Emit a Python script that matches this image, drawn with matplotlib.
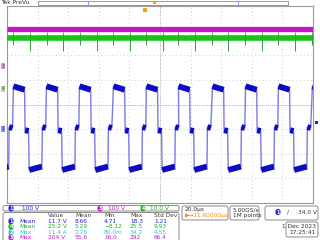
import numpy as np
import matplotlib.pyplot as plt
from matplotlib.patches import FancyBboxPatch, Rectangle

# ---- screen setup: 10 x 20 us/div horizontally, 8 divs vertically ----
T_PER_DIV = 20.0
N_HDIV, N_VDIV = 10, 8

# ---- ch1 (blue, 100 V/div, marker 1 div below centre) ----
ch1_scale = 100.0
ch1_pos_div = -1.0
# rising edges, us
ch1_rise_us = [-117.8, -96.1, -74.5, -52.9, -30.7, -9.2, 11.8, 34.0, 55.6, 77.1, 99.3]
# flat parts of one period: start/end offset after the rising edge (us), start/end level (V)
ch1_flat_t0 = [0.3, 7.9, 10.6, 19.2]
ch1_flat_t1 = [7.6, 10.2, 18.9, 21.4]
ch1_flat_v0 = [174.0, -4.0, -166.0, 8.0]
ch1_flat_v1 = [160.0, -8.0, -152.0, 5.0]

# ---- ch4 (green, 10 V/div) ----
ch4_scale = 10.0
ch4_pos_div = 0.63
ch4_level_v = 20.9
ch4_spike_long_us = [-85.0, -63.4, -41.2, -19.6, 2.0, 22.9, 44.4, 66.7, 88.2]
ch4_spike_long_v = 15.6
ch4_spike_short_us = [-96.1, -73.9, -52.3, -30.7, -9.2, 11.8, 34.0, 55.6, 77.1, 99.3]
ch4_spike_short_v = 17.8
ch4_spike_up_v = 23.0

# ---- ch3 (magenta, 100 V/div) ----
ch3_scale = 100.0
ch3_pos_div = 1.56
ch3_level_v = 152.0

# ---- measurement table ----
meas_cols = ["Value", "Mean", "Min", "Max", "Std Dev"]
meas_ch = ["1", "4", "2", "3"]
meas_kind = ["Mean", "Mean", "Max", "Max"]
meas_value = ["11.7 V", "25.2 V", "11.4 A", "204 V"]
meas_mean = ["8.66", "5.29", "2.76", "55.6"]
meas_min = ["4.71", "\u22128.12", "80.0m", "16.0"]
meas_max = ["18.3", "25.5", "34.2", "292"]
meas_std = ["1.21", "9.93", "4.55", "66.4"]

ch_colors = {"1": "#2222dd", "2": "#22c8dc", "3": "#c21fc2", "4": "#1fb21f"}

W, H = 320, 240
fig = plt.figure(figsize=(W / 100, H / 100), dpi=100)
fig.patch.set_facecolor("white")

# scope graticule area in pixels
gx0, gx1, gy0, gy1 = 7, 313, 6, 203
ax = fig.add_axes([gx0 / W, 1 - gy1 / H, (gx1 - gx0) / W, (gy1 - gy0) / H])
ax.set_xlim(-N_HDIV / 2 * T_PER_DIV, N_HDIV / 2 * T_PER_DIV)
ax.set_ylim(-N_VDIV / 2, N_VDIV / 2)
ax.set_xticks(np.arange(-5, 6) * T_PER_DIV)
ax.set_yticks(np.arange(-4, 5))
ax.tick_params(length=0, labelbottom=False, labelleft=False)
ax.grid(True, color="#bcbcbc", lw=0.6, ls=(0, (1, 3.5)))
for s in ax.spines.values():
    s.set_color("#9a9a9a")
    s.set_linewidth(0.8)
ax.axhline(0, color="#a8a8a8", lw=0.6, ls=(0, (1, 1.5)))
ax.axvline(0, color="#a8a8a8", lw=0.6, ls=(0, (1, 1.5)))


def to_div(v, scale, pos):
    return np.asarray(v) / scale + pos


# ch3 band
ax.plot(ax.get_xlim(), to_div([ch3_level_v, ch3_level_v], ch3_scale, ch3_pos_div),
        color="#c418c4", lw=3.8, solid_capstyle="butt", zorder=3)

# ch4 band + spikes
g_lvl = to_div(ch4_level_v, ch4_scale, ch4_pos_div)
ax.plot(ax.get_xlim(), [g_lvl, g_lvl], color="#14c414", lw=4.0, solid_capstyle="butt", zorder=3)
ax.vlines(ch4_spike_long_us, to_div(ch4_spike_long_v, ch4_scale, ch4_pos_div), g_lvl,
          color="#3a9a3a", lw=0.7, zorder=3)
ax.vlines(ch4_spike_short_us, to_div(ch4_spike_short_v, ch4_scale, ch4_pos_div), g_lvl,
          color="#3a9a3a", lw=0.7, zorder=3)
ax.vlines(ch4_spike_long_us + ch4_spike_short_us, g_lvl,
          to_div(ch4_spike_up_v, ch4_scale, ch4_pos_div), color="#3a9a3a", lw=0.6, zorder=3)

# ch1: thin edges first, then the dense flat parts
tt, vv = [], []
for r in ch1_rise_us:
    for a, b, va, vb in zip(ch1_flat_t0, ch1_flat_t1, ch1_flat_v0, ch1_flat_v1):
        tt += [r + a, r + b]
        vv += [va, vb]
ax.plot(tt, to_div(vv, ch1_scale, ch1_pos_div), color="#7a7ae8", lw=1.0, zorder=4)
for r in ch1_rise_us:
    for a, b, va, vb in zip(ch1_flat_t0, ch1_flat_t1, ch1_flat_v0, ch1_flat_v1):
        ax.plot([r + a, r + b], to_div([va, vb], ch1_scale, ch1_pos_div),
                color="#0c0cc4", lw=4.2, solid_capstyle="butt", zorder=5)

# ---- overlay in pixel coordinates for the readouts ----
ov = fig.add_axes([0, 0, 1, 1], zorder=10)
ov.set_xlim(0, W)
ov.set_ylim(H, 0)
ov.axis("off")
ov.patch.set_alpha(0)

fs = 4.2
ov.text(1, 3, "Tek PreVu", fontsize=fs, color="#303030", va="center", ha="left")
ov.add_patch(Rectangle((38, 0.5), 250, 4.5, fill=False, ec="#9a9a9a", lw=0.7))
ov.add_patch(Rectangle((88, 0.5), 150, 4.5, fill=False, ec="#9090f0", lw=0.7))
ov.add_patch(Rectangle((153, 0.5), 3, 3.5, fc="#f0a020", ec="none"))
ov.add_patch(Rectangle((143, 8), 4, 4, fc="#f0a020", ec="none"))
ov.add_patch(Rectangle((315, 120.5), 3, 3, fc="#2222dd", ec="none"))


# channel markers on the left edge
def edge_marker(y, label, fc, tc):
    ov.text(3, y, label, fontsize=3.4, color=tc, ha="center", va="center",
            bbox=dict(boxstyle="square,pad=0.15", fc=fc, ec="none"))


edge_marker(66, "3", "#c8a0c8", "#704070")
edge_marker(89, "4", "#a8d8a0", "#307030")
edge_marker(129, "1", "#9090ee", "#2020a0")


def badge(x, y, label, color):
    ov.text(x, y, label, fontsize=3.4, color="white", ha="center", va="center",
            fontweight="bold",
            bbox=dict(boxstyle="round,pad=0.2,rounding_size=0.8", fc=color, ec="none"))


# channel bar
ov.add_patch(FancyBboxPatch((3, 205.5), 176, 5.5, boxstyle="round,pad=0,rounding_size=2",
                            fill=False, ec="#8a8a8a", lw=0.7))
badge(11, 208.3, "1", ch_colors["1"])
ov.text(22, 208.3, "100 V", fontsize=fs, color=ch_colors["1"], va="center")
badge(100, 208.3, "3", ch_colors["3"])
ov.text(108, 208.3, "100 V", fontsize=fs, color=ch_colors["3"], va="center")
badge(143, 208.3, "4", ch_colors["4"])
ov.text(150, 208.3, "10.0 V", fontsize=fs, color=ch_colors["4"], va="center")

# measurement table
ov.add_patch(FancyBboxPatch((3, 212.5), 176, 30, boxstyle="round,pad=0,rounding_size=2",
                            fill=False, ec="#8a8a8a", lw=0.7))
col_x = [48, 75, 104, 130, 154]
for cx, name in zip(col_x, meas_cols):
    ov.text(cx, 215.8, name, fontsize=fs, color="#404040", va="center")
rows = list(zip(meas_ch, meas_kind, meas_value, meas_mean, meas_min, meas_max, meas_std))
for i, (ch, kind, *vals) in enumerate(rows):
    y = 221.3 + i * 5.4
    c = ch_colors[ch]
    badge(11, y, ch, c)
    ov.text(19, y, kind, fontsize=fs, color=c, va="center")
    for cx, v in zip(col_x, vals):
        ov.text(cx, y, v, fontsize=fs, color=c, va="center")

# timebase / sample rate / trigger boxes
ov.add_patch(FancyBboxPatch((182, 206), 46, 14, boxstyle="round,pad=0,rounding_size=2",
                            fill=False, ec="#8a8a8a", lw=0.7))
ov.text(185, 210, "20.0\u00b5s", fontsize=fs, color="#303030", va="center")
ov.text(185, 216, "\u25b6\u219211.60000\u00b5s", fontsize=fs, color="#f09010", va="center")
ov.add_patch(FancyBboxPatch((230, 206), 29, 14, boxstyle="round,pad=0,rounding_size=2",
                            fill=False, ec="#8a8a8a", lw=0.7))
ov.text(233, 210, "5.00GS/s", fontsize=fs, color="#303030", va="center")
ov.text(233, 216, "1M points", fontsize=fs, color="#303030", va="center")
ov.add_patch(FancyBboxPatch((265, 206), 53, 14, boxstyle="round,pad=0,rounding_size=2",
                            fill=False, ec="#8a8a8a", lw=0.7))
badge(278, 212, "1", ch_colors["1"])
ov.text(288, 212, "/", fontsize=fs, color="#303030", va="center", ha="center")
ov.text(317, 212, "34.0 V", fontsize=fs, color="#303030", va="center", ha="right")
ov.add_patch(FancyBboxPatch((286, 222), 32, 15, boxstyle="round,pad=0,rounding_size=2",
                            fill=False, ec="#8a8a8a", lw=0.7))
ov.text(316, 226, "1 Dec 2023", fontsize=fs, color="#303030", va="center", ha="right")
ov.text(316, 233, "17:25:41", fontsize=fs, color="#303030", va="center", ha="right")

fig.savefig("out.png", dpi=100)
